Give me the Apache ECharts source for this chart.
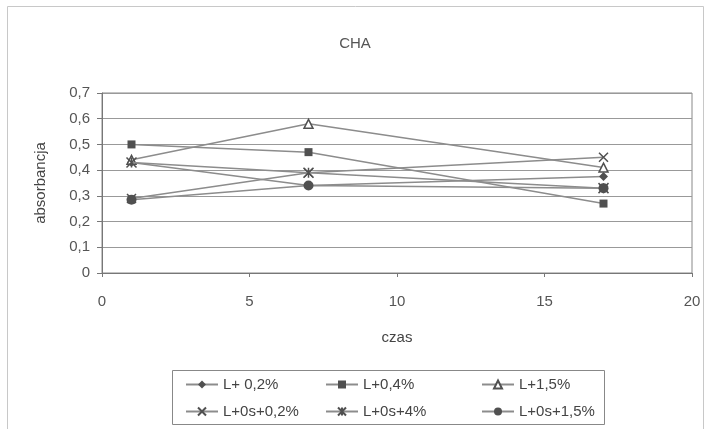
<!DOCTYPE html>
<html>
<head>
<meta charset="utf-8">
<script src="https://cdn.jsdelivr.net/npm/echarts@6/dist/echarts.min.js"></script>
<style>
  html, body { margin: 0; padding: 0; background: #fff; }
  #chart { width: 710px; height: 429px; }
</style>
</head>
<body>
<div id="chart"></div>
<script>
  // czas (x) values
  const czas = [1, 7, 17]
  const seriesNames = ['L+ 0,2%', 'L+0,4%', 'L+1,5%', 'L+0s+0,2%', 'L+0s+4%', 'L+0s+1,5%']
  const l02 = [0.43, 0.34, 0.375]
  const l04 = [0.50, 0.47, 0.27]
  const l15 = [0.44, 0.58, 0.41]
  const l0s02 = [0.29, 0.39, 0.45]
  const l0s4 = [0.43, 0.39, 0.33]
  const l0s15 = [0.285, 0.34, 0.33]
  const yTicks = [0, 0.1, 0.2, 0.3, 0.4, 0.5, 0.6, 0.7]

  const values = [l02, l04, l15, l0s02, l0s4, l0s15]
  const symbols = [
    'diamond',
    'rect',
    'triangle',
    'path://M0,0L10,10M10,0L0,10',
    'path://M0,0L10,10M10,0L0,10M5,0L5,10',
    'circle'
  ]
  const symbolSizes = [9, 8, 9, 9, 10, 10]
  const lineColor = '#8c8c8c'
  const markColor = '#505050'
  const font = 'Liberation Sans'

  let chart = echarts.init(document.getElementById('chart'))

  let series = values.map((vals, i) => {
    let hollow = i === 2
    let stroked = i === 3 || i === 4
    return {
      name: seriesNames[i],
      type: 'line',
      data: czas.map((x, j) => [x, vals[j]]),
      symbol: symbols[i],
      symbolSize: symbolSizes[i],
      showAllSymbol: true,
      lineStyle: { color: lineColor, width: 1.5 },
      itemStyle: {
        color: hollow ? '#fff' : markColor,
        borderColor: markColor,
        borderWidth: hollow || stroked ? 1.5 : 0
      },
      emphasis: { disabled: true },
      z: 2 + i
    }
  })

  // legend laid out as 2 rows x 3 columns like the original
  let legendLeft = [185, 325, 481]
  let legendTop = [377, 404]
  let legends = seriesNames.map((name, i) => ({
    data: [name],
    left: legendLeft[i % 3],
    top: legendTop[Math.floor(i / 3)],
    itemWidth: 32,
    itemHeight: 10,
    padding: 0,
    textStyle: { fontFamily: font, fontSize: 15, color: '#444' },
    selectedMode: false
  }))

  let option = {
    backgroundColor: '#fff',
    animation: false,
    color: [lineColor],
    title: {
      text: 'CHA',
      left: 'center',
      top: 31,
      textStyle: { fontFamily: font, fontSize: 15, fontWeight: 'normal', color: '#555' }
    },
    legend: legends,
    graphic: [
      {
        type: 'rect',
        shape: { x: 7.5, y: 6.5, width: 696, height: 440 },
        style: { fill: 'none', stroke: '#c8c8c8', lineWidth: 1 },
        silent: true
      },
      {
        type: 'rect',
        shape: { x: 172.5, y: 370.5, width: 432, height: 54 },
        style: { fill: 'none', stroke: '#888', lineWidth: 1 },
        silent: true
      }
    ],
    grid: {
      left: 102,
      right: 18,
      top: 93,
      bottom: 156,
      show: true,
      borderColor: '#888',
      borderWidth: 1
    },
    xAxis: {
      type: 'value',
      min: 0,
      max: 20,
      interval: 5,
      name: 'czas',
      nameLocation: 'middle',
      nameGap: 57,
      nameTextStyle: { fontFamily: font, fontSize: 15, color: '#444' },
      axisLine: { lineStyle: { color: '#777' } },
      axisTick: { show: true, length: 4, lineStyle: { color: '#777' } },
      axisLabel: { fontFamily: font, fontSize: 15, color: '#555', margin: 21 },
      splitLine: { show: false }
    },
    yAxis: {
      type: 'value',
      min: 0,
      max: 0.7,
      interval: 0.1,
      name: 'absorbancja',
      nameLocation: 'middle',
      nameGap: 54,
      nameTextStyle: { fontFamily: font, fontSize: 15, color: '#444' },
      axisLine: { show: true, lineStyle: { color: '#777' } },
      axisTick: { show: true, length: 5, lineStyle: { color: '#777' } },
      axisLabel: {
        fontFamily: font,
        fontSize: 15,
        color: '#555',
        margin: 12,
        formatter: v => {
          let t = yTicks.find(k => Math.abs(k - v) < 1e-6)
          return t === 0 ? '0' : String(Math.round(t * 10) / 10).replace('.', ',')
        }
      },
      splitLine: { show: true, lineStyle: { color: '#999', width: 1 } }
    },
    series: series
  }

  chart.setOption(option)
</script>
</body>
</html>
